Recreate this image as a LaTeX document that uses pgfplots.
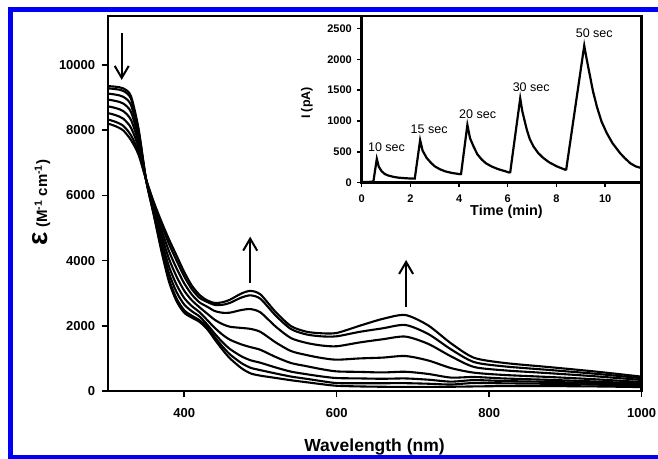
\documentclass[border=0pt]{standalone}
\usepackage{fontspec}
\setmainfont{Liberation Sans}
\usepackage{pgfplots}
\pgfplotsset{compat=1.18}
\usepackage{pgfplotstable}
\usetikzlibrary{arrows.meta}

\pgfplotstableread{
wl c1 c2 c3 c4 c5 c6 c7 c8
300 8200 8326 8522 8729 8936 9120 9281 9350
310 8120 8253 8459 8677 8894 9088 9257 9330
320 7990 8132 8351 8583 8816 9022 9203 9280
330 7700 7848 8078 8321 8564 8780 8969 9050
340 7250 7338 7474 7618 7762 7890 8002 8050
350 6480 6479 6477 6475 6474 6472 6470 6470
360 5800 5756 5688 5616 5544 5480 5424 5400
370 5200 5101 4948 4786 4624 4480 4354 4300
380 4650 4507 4286 4052 3818 3610 3428 3350
390 4150 3996 3758 3506 3254 3030 2834 2750
400 3650 3513 3300 3075 2850 2650 2475 2400
410 3230 3122 2956 2779 2603 2446 2309 2250
420 2950 2859 2718 2568 2419 2286 2170 2120
430 2780 2732 2586 2374 2180 2040 1960 1900
440 2700 2640 2452 2184 1936 1758 1656 1580
450 2720 2642 2400 2052 1731 1501 1369 1270
460 2800 2703 2402 1970 1572 1286 1122 1000
475 2990 2866 2484 1934 1428 1064 856 700
487 3070 2933 2511 1904 1345 942 712 540
500 2960 2826 2410 1812 1262 866 639 470
520 2420 2311 1974 1489 1042 721 537 400
540 1990 1900 1623 1225 858 594 443 330
560 1820 1736 1477 1105 763 516 375 270
580 1770 1676 1396 1013 670 447 304 210
600 1780 1678 1372 960 601 397 243 160
630 2000 1814 1489 999 586 386 237 140
660 2210 1921 1586 1024 569 375 238 130
690 2330 2024 1669 1073 590 385 240 125
720 2010 1748 1445 936 523 347 223 125
750 1460 1275 1061 702 411 287 199 130
780 1020 888 738 562 430 334 246 140
820 860 754 633 491 384 306 235 150
880 730 643 544 428 341 278 220 150
940 595 527 449 358 290 240 195 140
1000 440 392 338 274 226 190 158 120
}\spec

\begin{document}
\begin{tikzpicture}[x=1pt,y=1pt]
\path[use as bounding box] (0,0) rectangle (658,458);
\begin{scope}
\clip (0,0) rectangle (658,458);
\draw[line width=5pt, draw={rgb,255:red,0;green,0;blue,245}] (10.8,0.5) rectangle (700,448);
\end{scope}

\begin{axis}[
  at={(108pt,67pt)}, anchor=south west, scale only axis,
  width=533.7pt, height=375pt,
  xmin=300, xmax=1000, ymin=0, ymax=11500,
  xtick={400,600,800,1000}, ytick={0,2000,4000,6000,8000,10000},
  xtick pos=bottom, ytick pos=left, tick align=outside,
  major tick length=6.3pt,
  every tick/.style={black, line width=1.5pt},
  axis line style={line width=2.5pt},
  scaled ticks=false,
  /pgf/number format/1000 sep={},
  /pgf/number format/assume math mode=true,
  ticklabel style={font=\fontsize{13}{13}\selectfont\bfseries},
  xticklabel style={yshift=-8pt},
  yticklabel style={xshift=-3pt},
]
\foreach \c in {c1,c2,c3,c4,c5,c6,c7,c8}{
  \addplot[black, line width=2.1pt, smooth, tension=0.45] table[x=wl, y=\c] {\spec};
}
\draw[line width=2pt, -{Straight Barb[length=12pt,width=14pt]}] (axis cs:318,10982) -- (axis cs:318,9540);
\draw[line width=2pt, -{Straight Barb[length=12pt,width=14pt]}] (axis cs:486.5,3304) -- (axis cs:486.5,4733);
\draw[line width=2pt, -{Straight Barb[length=12pt,width=14pt]}] (axis cs:691,2567) -- (axis cs:691,4018);
\end{axis}

\begin{axis}[
  at={(361.7pt,275.3pt)}, anchor=south west, scale only axis,
  width=280pt, height=166.7pt,
  xmin=0, xmax=11.5, ymin=0, ymax=2700,
  xtick={0,2,4,6,8,10}, ytick={0,500,1000,1500,2000,2500},
  xtick pos=bottom, ytick pos=left, tick align=outside,
  major tick length=4.4pt,
  every tick/.style={black, line width=1.4pt},
  axis line style={line width=2.5pt},
  scaled ticks=false,
  /pgf/number format/1000 sep={},
  /pgf/number format/assume math mode=true,
  ticklabel style={font=\fontsize{11}{11}\selectfont\bfseries},
  xticklabel style={yshift=-4pt},
  yticklabel style={xshift=-2pt},
]
\addplot[black, line width=2.2pt] coordinates {
(0,10) (0.2,12) (0.4,15) (0.48,20) (0.62,385) (0.7,260) (0.82,185) (0.95,140)
(1.1,115) (1.3,95) (1.5,82) (1.8,72) (2.12,66) (2.18,68) (2.40,690) (2.5,520)
(2.67,400) (2.85,320) (3.0,265) (3.2,220) (3.42,185) (3.7,158) (4.04,138) (4.08,140)
(4.34,935) (4.45,720) (4.59,590) (4.75,460) (4.93,375) (5.1,315) (5.34,262) (5.6,220)
(5.9,185) (6.05,165) (6.1,170) (6.51,1365) (6.6,1150) (6.78,860) (6.9,710) (7.05,590)
(7.25,480) (7.46,400) (7.7,330) (8.01,265) (8.2,235) (8.36,210) (8.4,215) (9.14,2220)
(9.25,1980) (9.38,1720) (9.5,1480) (9.66,1230) (9.85,990) (10.07,800) (10.3,640)
(10.62,475) (10.8,400) (11.03,315) (11.25,265) (11.5,235)
};
\node[font=\fontsize{12.5}{12.5}\selectfont] at (axis cs:1.02,578) {10 sec};
\node[font=\fontsize{12.5}{12.5}\selectfont] at (axis cs:2.77,861) {15 sec};
\node[font=\fontsize{12.5}{12.5}\selectfont] at (axis cs:4.76,1112) {20 sec};
\node[font=\fontsize{12.5}{12.5}\selectfont] at (axis cs:6.96,1553) {30 sec};
\node[font=\fontsize{12.5}{12.5}\selectfont] at (axis cs:9.55,2422) {50 sec};
\end{axis}

% axis labels
\node[anchor=base, font=\fontsize{17.5}{17.5}\selectfont\bfseries] at (374.5pt,7pt) {Wavelength (nm)};
\node[anchor=base, rotate=90, font=\fontsize{15}{15}\selectfont\bfseries] at (47pt,255.5pt) {{\fontsize{28}{28}\selectfont ε} (M\textsuperscript{-1} cm\textsuperscript{-1})};
\node[anchor=base, font=\fontsize{14.4}{14.4}\selectfont\bfseries] at (506.5pt,242pt) {Time (min)};
\node[anchor=base, rotate=90, font=\fontsize{12.5}{12.5}\selectfont\bfseries] at (310pt,355pt) {I (pA)};
\end{tikzpicture}
\end{document}
